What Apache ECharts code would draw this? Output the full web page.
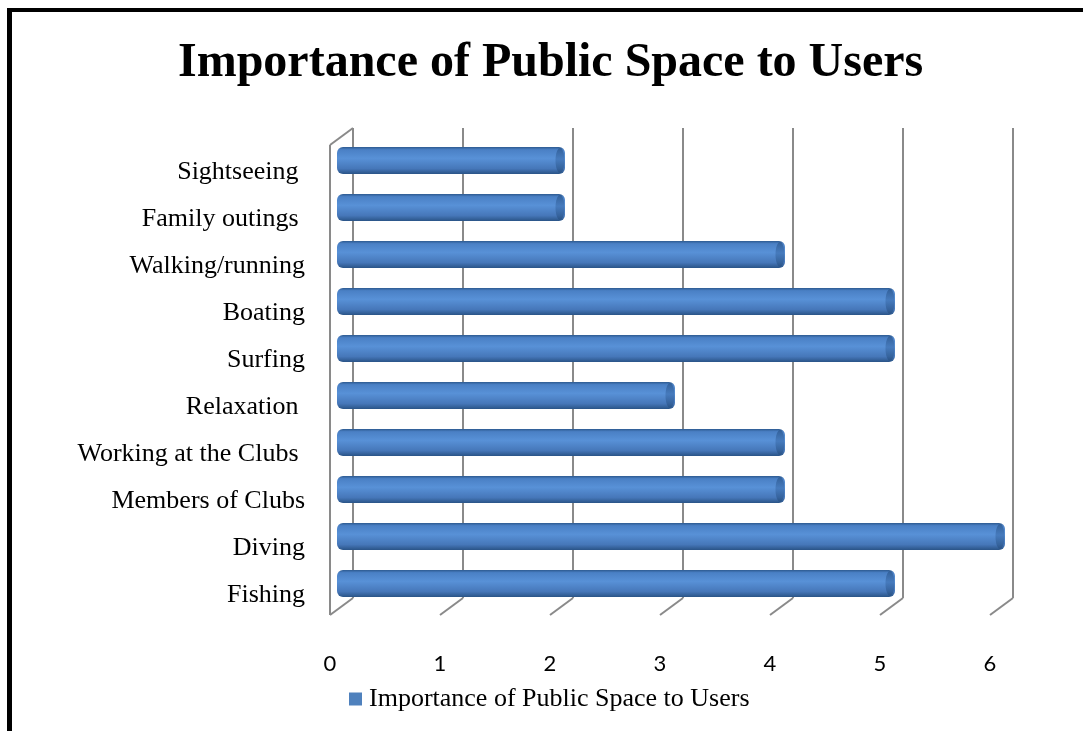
<!DOCTYPE html>
<html>
<head>
<meta charset="utf-8">
<script src="https://cdn.jsdelivr.net/npm/echarts@6/dist/echarts.min.js"></script>
<style>
  html, body { margin: 0; padding: 0; background: #fff; }
  #chart { width: 1083px; height: 731px; position: relative; }
  #frame { position: absolute; left: 7px; top: 8px; width: 1100px; height: 800px;
           border-left: 5px solid #000; border-top: 4px solid #000; pointer-events: none; }
</style>
</head>
<body>
<div id="chart"></div>
<div id="frame"></div>
<script>
const title = 'Importance of Public Space to Users';
const categories = ['Fishing', 'Diving', 'Members of Clubs', 'Working at the Clubs ', 'Relaxation ',
                    'Surfing', 'Boating', 'Walking/running', 'Family outings ', 'Sightseeing '];
const values = [5, 6, 4, 4, 3, 5, 5, 4, 2, 2];
const xTicks = [0, 1, 2, 3, 4, 5, 6];

const DX = 23, DY = 17;          // depth offset of the 3D floor
const serif = 'Liberation Serif, Times New Roman, serif';

const chart = echarts.init(document.getElementById('chart'), null, { renderer: 'canvas' });

const barGrad = new echarts.graphic.LinearGradient(0, 0, 0, 1, [
  { offset: 0, color: '#2d5a90' },
  { offset: 0.1, color: '#4a80c5' },
  { offset: 0.42, color: '#5891d7' },
  { offset: 0.8, color: '#4677b9' },
  { offset: 1, color: '#2a5487' }
]);
const capGrad = new echarts.graphic.LinearGradient(0, 0, 0, 1, [
  { offset: 0, color: '#2a558a' },
  { offset: 0.45, color: '#3f72b3' },
  { offset: 1, color: '#274f80' }
]);

chart.setOption({
  animation: false,
  title: {
    text: title, left: 173, top: 35,
    textStyle: { fontFamily: serif, fontSize: 48, fontWeight: 'bold', color: '#000' }
  },
  legend: {
    data: [title], left: 349, top: 686, padding: 0, icon: 'rect', itemWidth: 13, itemHeight: 13, itemGap: 8,
    textStyle: { fontFamily: serif, fontSize: 26, color: '#000', padding: [0, 0, 0, 2] }
  },
  grid: [
    { left: 353, top: 128, width: 660, height: 470 },        // back wall
    { left: 341, top: 137, width: 660, height: 470 },        // bars (middle depth)
    { left: 330, top: 145, width: 660, height: 470 },        // front plane (x labels)
    { left: 341, top: 149, width: 660, height: 470 }         // category labels
  ],
  xAxis: [
    { gridIndex: 0, type: 'value', min: 0, max: 6, interval: 1, show: false },
    { gridIndex: 1, type: 'value', min: 0, max: 6, interval: 1, show: false },
    { gridIndex: 2, type: 'value', min: 0, max: 6, interval: 1,
      axisLine: { show: false }, axisTick: { show: false }, splitLine: { show: false },
      axisLabel: { margin: 38, fontFamily: 'Lato, Open Sans, sans-serif', fontSize: 22, color: '#000' } },
    { gridIndex: 3, type: 'value', min: 0, max: 6, interval: 1, show: false }
  ],
  yAxis: [
    { gridIndex: 0, type: 'value', min: 0, max: 1, show: false },
    { gridIndex: 1, type: 'category', data: categories, show: false },
    { gridIndex: 2, type: 'value', min: 0, max: 1, show: false },
    { gridIndex: 3, type: 'category', data: categories,
      axisLine: { show: false }, axisTick: { show: false },
      axisLabel: { margin: 36, fontFamily: serif, fontSize: 26, color: '#000' } }
  ],
  series: [
    {
      type: 'custom', name: 'frame', xAxisIndex: 0, yAxisIndex: 0, silent: true, z: 1,
      data: xTicks.map(v => [v]),
      renderItem: function (params, api) {
        const v = api.value(0);
        const b = api.coord([v, 0]);
        const t = api.coord([v, 1]);
        const style = { stroke: '#8a8a8a', lineWidth: 2, fill: null };
        const children = [
          { type: 'line', shape: { x1: t[0], y1: t[1], x2: b[0], y2: b[1] }, style },
          { type: 'line', shape: { x1: b[0], y1: b[1], x2: b[0] - DX, y2: b[1] + DY }, style }
        ];
        if (v === 0) {
          children.push({ type: 'line', shape: { x1: t[0], y1: t[1], x2: t[0] - DX, y2: t[1] + DY }, style });
          children.push({ type: 'line', shape: { x1: t[0] - DX, y1: t[1] + DY, x2: b[0] - DX, y2: b[1] + DY }, style });
        }
        return { type: 'group', children };
      }
    },
    {
      type: 'custom', name: title, xAxisIndex: 1, yAxisIndex: 1, z: 3,
      itemStyle: { color: '#4F81BD' },
      data: values.map((v, i) => [i, v]),
      encode: { x: 1, y: 0 },
      renderItem: function (params, api) {
        const cat = api.value(0);
        const v = api.value(1);
        const s = api.coord([0, cat]);
        const e = api.coord([v, cat]);
        const h = 27;
        const x0 = s[0] - 4, x1 = e[0] + 4;
        const y0 = s[1] - h / 2;
        return {
          type: 'group',
          children: [
            { type: 'rect', shape: { x: x0, y: y0, width: x1 - x0, height: h, r: 6 },
              style: { fill: barGrad } },
            { type: 'ellipse', shape: { cx: x1 - 5, cy: s[1], rx: 4.5, ry: h / 2 - 1 },
              style: { fill: capGrad, opacity: 0.7 } }
          ]
        };
      }
    }
  ]
});
</script>
</body>
</html>
